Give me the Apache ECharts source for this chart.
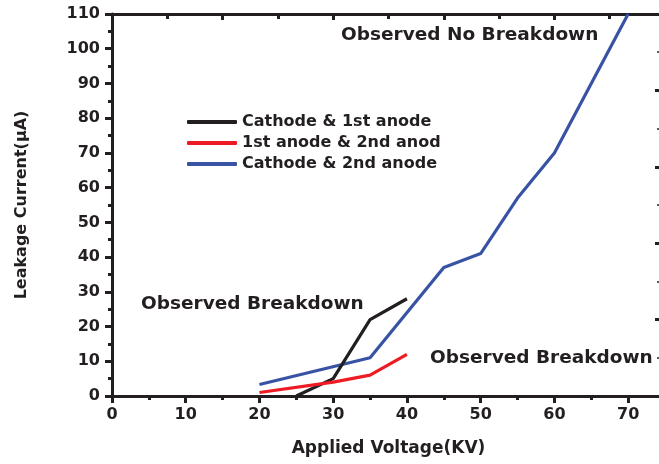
<!DOCTYPE html>
<html>
<head>
<meta charset="utf-8">
<script src="https://cdn.jsdelivr.net/npm/echarts@6/dist/echarts.min.js"></script>
<style>
html, body { margin: 0; padding: 0; background: #fff; }
#main { width: 659px; height: 464px; }
</style>
</head>
<body>
<div id="main"></div>
<script>
var myChart = echarts.init(document.getElementById('main'));

var seriesNames = ['Cathode & 1st anode', '1st anode & 2nd anod', 'Cathode & 2nd anode'];
var seriesColors = ['#231f20', '#ed1c24', '#3953a4'];

// Applied voltage (KV) / leakage current (uA)
var cathode1stX = [25, 30, 35, 40];
var cathode1stY = [0, 5, 22, 28];
var anode12X = [20, 30, 35, 40];
var anode12Y = [1, 4, 6, 12];
var cathode2ndX = [20, 35, 45, 50, 55, 60, 65, 70];
var cathode2ndY = [3.3, 11, 37, 41, 57, 70, 90, 110];

var annotations = ['Observed No Breakdown', 'Observed Breakdown', 'Observed Breakdown'];

function pairs(xs, ys) {
    var out = [];
    for (var k = 0; k < xs.length; k++) {
        out.push([xs[k], ys[k]]);
    }
    return out;
}

var ink = '#231f20';
var font = 'DejaVu Sans';

function mkSeries(idx, xs, ys) {
    return {
        name: seriesNames[idx],
        type: 'line',
        data: pairs(xs, ys),
        symbol: 'none',
        xAxisIndex: 0,
        yAxisIndex: 0,
        lineStyle: { color: seriesColors[idx], width: 3.2 },
        itemStyle: { color: seriesColors[idx] },
        z: idx === 2 ? 3 : 4
    };
}

var option = {
    animation: false,
    backgroundColor: '#fff',
    textStyle: { fontFamily: font },
    grid: {
        left: 112,
        right: -6,
        top: 14,
        bottom: 68,
        containLabel: false,
        outerBoundsMode: 'none'
    },
    legend: {
        orient: 'vertical',
        left: 182,
        top: 109,
        padding: 5,
        icon: 'roundRect',
        itemWidth: 50,
        itemHeight: 4,
        itemGap: 5,
        data: seriesNames,
        textStyle: { fontFamily: font, fontWeight: 'bold', fontSize: 16, color: ink }
    },
    xAxis: [{
        type: 'value',
        position: 'bottom',
        min: 0,
        max: 75,
        interval: 10,
        name: 'Applied Voltage(KV)',
        nameLocation: 'middle',
        nameGap: 44,
        nameTextStyle: { fontFamily: font, fontWeight: 'bold', fontSize: 17, color: ink },
        axisLine: { show: true, onZero: false, lineStyle: { color: ink, width: 3 } },
        axisTick: { show: true, inside: false, length: 7, lineStyle: { color: ink, width: 3 } },
        minorTick: { show: true, splitNumber: 2, length: 4, lineStyle: { color: ink, width: 3 } },
        axisLabel: {
            margin: 11,
            fontFamily: font, fontWeight: 'bold', fontSize: 16, color: ink,
            formatter: function (v) { return v <= 70 ? String(v) : ''; }
        },
        splitLine: { show: false }
    }, {
        type: 'value',
        position: 'top',
        min: 0,
        max: 75,
        interval: 15,
        axisLine: { show: true, onZero: false, lineStyle: { color: ink, width: 3 } },
        axisTick: { show: true, inside: true, length: 6, lineStyle: { color: ink, width: 3 } },
        minorTick: { show: true, splitNumber: 2, length: 5, lineStyle: { color: ink, width: 3 } },
        axisLabel: { show: false },
        splitLine: { show: false }
    }],
    yAxis: [{
        type: 'value',
        position: 'left',
        min: 0,
        max: 110,
        interval: 10,
        name: 'Leakage Current(\u03bcA)',
        nameLocation: 'middle',
        nameGap: 82,
        nameTextStyle: { fontFamily: font, fontWeight: 'bold', fontSize: 16, color: ink },
        axisLine: { show: true, onZero: false, lineStyle: { color: ink, width: 3 } },
        axisTick: { show: true, inside: false, length: 7, lineStyle: { color: ink, width: 3 } },
        minorTick: { show: true, splitNumber: 2, length: 4, lineStyle: { color: ink, width: 3 } },
        axisLabel: { margin: 12, fontFamily: font, fontWeight: 'bold', fontSize: 16, color: ink },
        splitLine: { show: false }
    }, {
        type: 'value',
        position: 'right',
        min: 0,
        max: 110,
        interval: 22,
        axisLine: { show: true, onZero: false, lineStyle: { color: ink, width: 3 } },
        axisTick: { show: true, inside: true, length: 10, lineStyle: { color: ink, width: 3 } },
        minorTick: { show: true, splitNumber: 2, length: 8, lineStyle: { color: ink, width: 1.5 } },
        axisLabel: { show: false },
        splitLine: { show: false }
    }],
    graphic: [{
        type: 'text',
        left: 341,
        top: 26,
        style: { text: annotations[0], fill: ink, font: 'bold 18.5px "DejaVu Sans"' }
    }, {
        type: 'text',
        left: 141,
        top: 295,
        style: { text: annotations[1], fill: ink, font: 'bold 18.5px "DejaVu Sans"' }
    }, {
        type: 'text',
        left: 430,
        top: 349,
        style: { text: annotations[2], fill: ink, font: 'bold 18.5px "DejaVu Sans"' }
    }],
    series: [
        mkSeries(0, cathode1stX, cathode1stY),
        mkSeries(1, anode12X, anode12Y),
        mkSeries(2, cathode2ndX, cathode2ndY)
    ]
};

if (option && typeof option === "object") {
    myChart.setOption(option, true);
}
</script>
</body>
</html>
